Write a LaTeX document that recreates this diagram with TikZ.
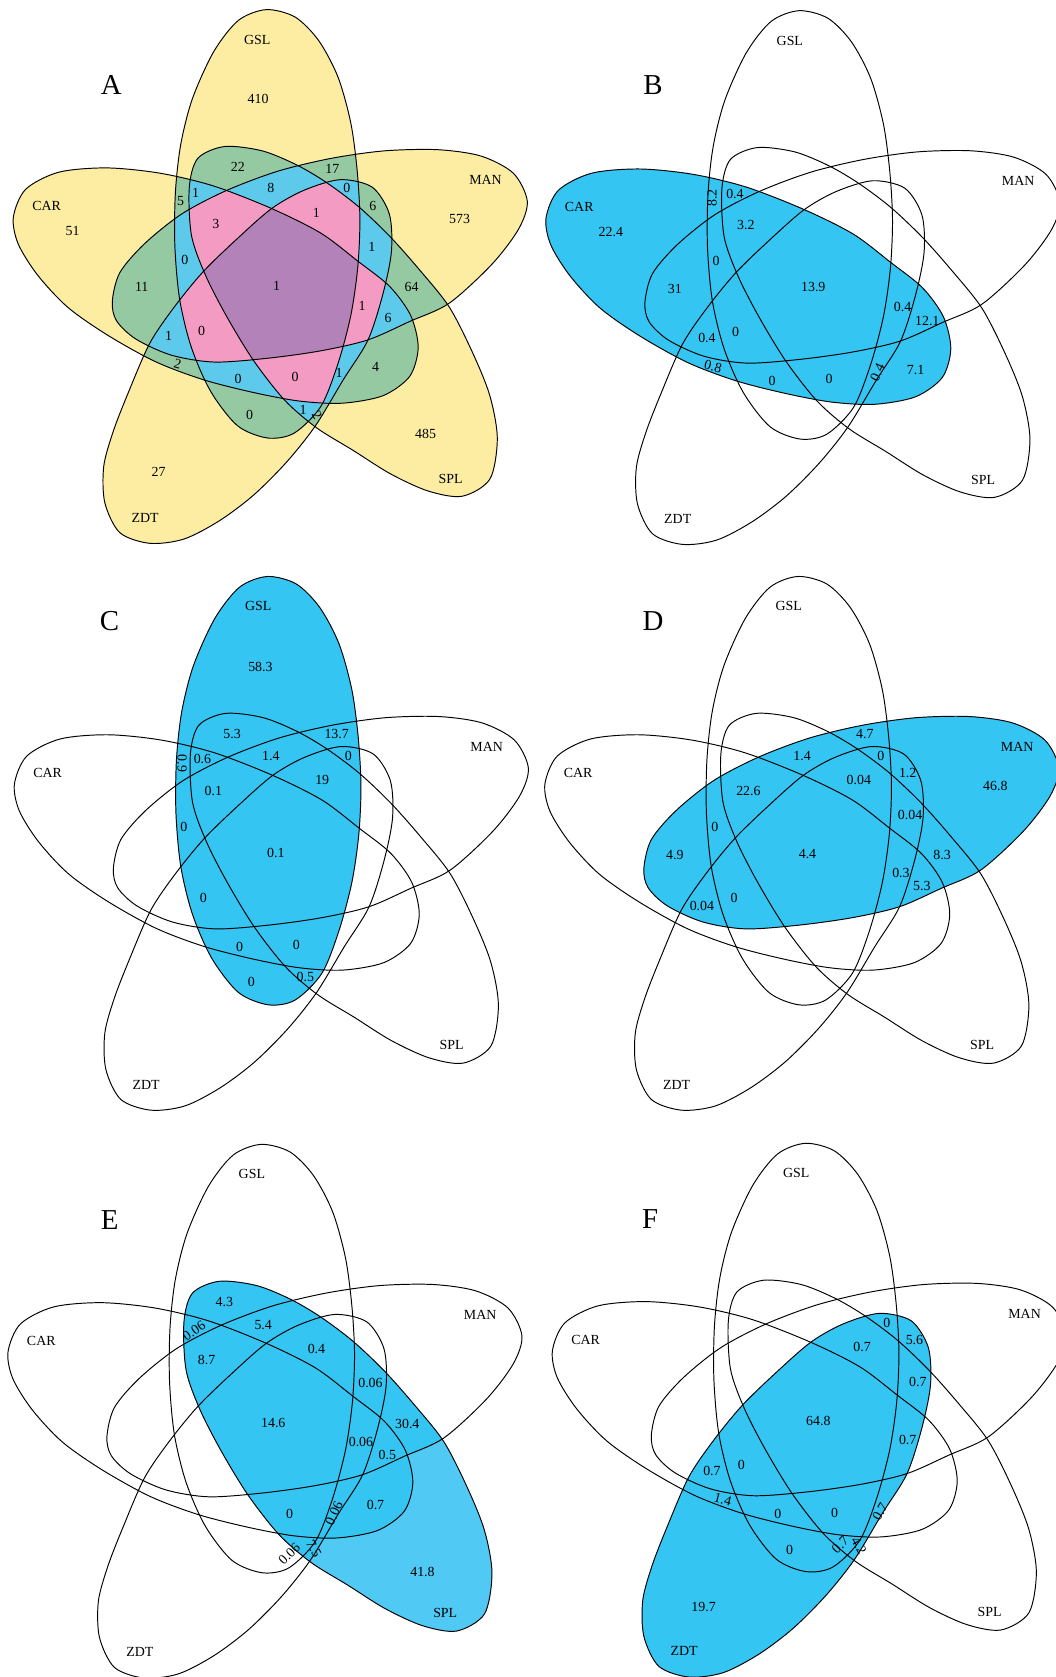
\documentclass[tikz,border=0pt]{standalone}
\usepackage{fontspec}
\setmainfont{Liberation Serif}
\usetikzlibrary{positioning}
\definecolor{one}{HTML}{FCEDA2}
\definecolor{two}{HTML}{95C9A1}
\definecolor{three}{HTML}{5DCAEB}
\definecolor{four}{HTML}{F49BC3}
\definecolor{five}{HTML}{B282B8}
\definecolor{hit}{HTML}{35C5F2}
\definecolor{hitlight}{HTML}{50C9F4}
\tikzset{
  outline/.style={draw=black,line width=0.9pt},
  setname/.style={font=\fontsize{13}{13}\selectfont,inner sep=0pt},
  cnt/.style={font=\fontsize{13}{13}\selectfont,inner sep=0pt},
  tag/.style={font=\fontsize{27}{27}\selectfont,inner sep=0pt},
}
% set outlines, panel A frame (y runs down)
\newcommand{\setG}{plot[smooth cycle] coordinates {(249,9) (276,16) (298,38) (316,72) (328,115) (334,160) (336.5,205) (334.5,250) (328,295) (316,340) (300,380) (275,405) (250,409.5) (222,398) (197,366) (179,325) (168,280) (163.5,230) (164,180) (169,135) (180,92) (200,48) (223,19)}}
\newcommand{\setM}{plot[smooth cycle] coordinates {(105,282) (112,255) (135,228) (170,200) (212,178) (260,160) (310,148) (360,141) (410,140) (450,146) (480,162) (493,188) (485,214) (460,247) (420,283.5) (383,300.6) (344,317.8) (300,328) (250,335) (200,338.5) (160,332) (127,317) (109,300)}}
\newcommand{\setS}{plot[smooth cycle] coordinates {(177,175) (185,148) (210,137) (245,141) (277,154) (305,170.5) (335,193) (364.5,221) (392,252) (420,287) (442,330) (458,370) (465,410) (458,448) (432,464) (400,459) (365,443) (330,421) (296,400) (266,374) (237,337) (212,296) (192,257) (179,220)}}
\newcommand{\setZ}{plot[smooth cycle] coordinates {(318,168) (348,175) (364,200) (366,235) (358,275) (344,318) (321,355) (295,398) (268,432) (237,463) (205,487) (172,504) (140,508) (112,498) (98,470) (97,436) (106,403) (120,367) (140,321) (163,287) (190,254) (222,223) (254,195) (284,178)}}
\newcommand{\setC}{plot[smooth cycle] coordinates {(12.5,203) (24,177) (55,161) (100,157) (150,162) (200,174) (254,195) (300,218) (335,244.5) (364.5,268) (384,295) (391,325) (383,352) (358,370) (320,377) (280,375) (237,367) (190,355) (145,338) (100,313) (63,287) (35,257) (17,228)}}
\newcommand{\drawsets}{%
  \draw[outline] \setG;
  \draw[outline] \setM;
  \draw[outline] \setS;
  \draw[outline] \setZ;
  \draw[outline] \setC;}
\newcommand{\setnames}[1]{%
  \node[setname] (#1gsl) at (240.5,37) {GSL};
  \node[setname] (#1man) at (454,168.5) {MAN};
  \node[setname] (#1spl) at (421.3,447.5) {SPL};
  \node[setname] (#1zdt) at (135.7,484) {ZDT};
  \node[setname] (#1car) at (43.6,192.6) {CAR};}
\begin{document}
\begin{tikzpicture}[x=1pt,y=-1pt]
\useasboundingbox (0,0) rectangle (987,1568);

% A: all five sets, coloured by overlap depth
\begin{scope}
\foreach \a in {\setG,\setM,\setS,\setZ,\setC} {\fill[one] \a;}
\foreach \a/\b in {\setG/\setM,\setG/\setS,\setG/\setZ,\setG/\setC,\setM/\setS,\setM/\setZ,\setM/\setC,\setS/\setZ,\setS/\setC,\setZ/\setC}
  {\begin{scope}\clip \a; \fill[two] \b;\end{scope}}
\foreach \a/\b/\c in {\setG/\setM/\setS,\setG/\setM/\setZ,\setG/\setM/\setC,\setG/\setS/\setZ,\setG/\setS/\setC,\setG/\setZ/\setC,\setM/\setS/\setZ,\setM/\setS/\setC,\setM/\setZ/\setC,\setS/\setZ/\setC}
  {\begin{scope}\clip \a; \clip \b; \fill[three] \c;\end{scope}}
\foreach \a/\b/\c/\d in {\setG/\setM/\setS/\setZ,\setG/\setM/\setS/\setC,\setG/\setM/\setZ/\setC,\setG/\setS/\setZ/\setC,\setM/\setS/\setZ/\setC}
  {\begin{scope}\clip \a; \clip \b; \clip \c; \fill[four] \d;\end{scope}}
\begin{scope}\clip \setG; \clip \setM; \clip \setS; \clip \setZ; \fill[five] \setC;\end{scope}
\drawsets
\setnames{a}
\node[tag] (atag) at (104,79) {A};
\node[cnt] (a1) at (241.3,92.7) {410};
\node[cnt] (a2) at (67.8,216) {51};
\node[cnt] (a3) at (429.7,204.3) {573};
\node[cnt] (a4) at (222.4,156) {22};
\node[cnt] (a5) at (310.7,157.7) {17};
\node[cnt] (a6) at (168.8,187.7) {5};
\node[cnt] (a7) at (183,180) {1};
\node[cnt] (a8) at (253.3,176) {8};
\node[cnt] (a9) at (324.3,176) {0};
\node[cnt] (a10) at (348.6,192.3) {6};
\node[cnt] (a11) at (201.9,209.3) {3};
\node[cnt] (a12) at (295.9,199) {1};
\node[cnt] (a13) at (172.9,242.7) {0};
\node[cnt] (a14) at (347.6,230.7) {1};
\node[cnt] (a15) at (132.5,268.3) {11};
\node[cnt] (a16) at (258.7,267.3) {1};
\node[cnt] (a17) at (384.9,268.3) {64};
\node[cnt] (a18) at (338.5,285.7) {1};
\node[cnt] (a19) at (362.8,297.7) {6};
\node[cnt] (a20) at (157.7,314.3) {1};
\node[cnt] (a21) at (188.6,309.3) {0};
\node[cnt,rotate=-15] (a22) at (166.2,340.7) {2};
\node[cnt] (a23) at (222.7,354) {0};
\node[cnt] (a24) at (276,352.7) {0};
\node[cnt] (a25) at (317,348.3) {1};
\node[cnt] (a26) at (351.1,343.3) {4};
\node[cnt] (a27) at (233.4,388.3) {0};
\node[cnt] (a28) at (283.3,383.3) {1};
\node[cnt,rotate=-60] (a29) at (296.5,388.3) {2};
\node[cnt] (a30) at (398,406) {485};
\node[cnt] (a31) at (148.3,441) {27};
\end{scope}

% B: CAR
\begin{scope}[shift={(498,1)}]
\fill[hit] \setC;
\drawsets
\setnames{b}
\node[tag] (btag) at (112.5,79) {B};
\node[cnt] (b1) at (73.1,216.3) {22.4};
\node[cnt,rotate=90] (b2) at (167.7,184) {8.2};
\node[cnt] (b3) at (189.2,180) {0.4};
\node[cnt] (b4) at (199.3,209.7) {3.2};
\node[cnt] (b5) at (171.5,243.3) {0};
\node[cnt] (b6) at (133,269) {31};
\node[cnt] (b7) at (262.4,267.3) {13.9};
\node[cnt] (b8) at (346,285.7) {0.4};
\node[cnt] (b9) at (369,299) {12.1};
\node[cnt] (b10) at (163,315) {0.4};
\node[cnt] (b11) at (189.8,309.7) {0};
\node[cnt,rotate=-15] (b12) at (168.7,341.7) {0.8};
\node[cnt] (b13) at (223.9,355) {0};
\node[cnt] (b14) at (277.2,353.3) {0};
\node[cnt,rotate=65] (b15) at (322.3,347.3) {0.4};
\node[cnt] (b16) at (358,344.7) {7.1};
\end{scope}

% C: GSL
\begin{scope}[shift={(1,530)}]
\fill[hit] \setG;
\drawsets
\setnames{c}
\node[tag] (ctag) at (101.5,50.7) {C};
\node[cnt] (c1) at (242.5,93.4) {58.3};
\node[cnt] (c2) at (216,156.7) {5.3};
\node[cnt] (c3) at (313.8,156.7) {13.7};
\node[cnt,rotate=-90] (c4) at (169.3,184) {0.9};
\node[cnt] (c5) at (188.3,180) {0.6};
\node[cnt] (c6) at (252.3,176.7) {1.4};
\node[cnt] (c7) at (324.6,176.7) {0};
\node[cnt] (c8) at (300.3,199.4) {19};
\node[cnt] (c9) at (198.4,210) {0.1};
\node[cnt] (c10) at (170.9,243.4) {0};
\node[cnt] (c11) at (257,267.7) {0.1};
\node[cnt] (c12) at (189.2,309.4) {0};
\node[cnt] (c13) at (223,355) {0};
\node[cnt] (c14) at (276,353.4) {0};
\node[cnt] (c15) at (234,388.4) {0};
\node[cnt] (c16) at (284.5,383.4) {0.5};
\end{scope}

% D: MAN
\begin{scope}[shift={(497,530)}]
\fill[hit] \setM;
\drawsets
\setnames{d}
\node[tag] (dtag) at (113.5,50.7) {D};
\node[cnt] (d1) at (311.6,156.7) {4.7};
\node[cnt] (d2) at (253,176.7) {1.4};
\node[cnt] (d3) at (326.5,176.7) {0};
\node[cnt] (d4) at (351.7,192.7) {1.2};
\node[cnt] (d5) at (306,199.4) {0.04};
\node[cnt] (d6) at (433.7,205) {46.8};
\node[cnt] (d7) at (202.8,210) {22.6};
\node[cnt] (d8) at (353.9,231.7) {0.04};
\node[cnt] (d9) at (171.3,243.4) {0};
\node[cnt] (d10) at (134,269) {4.9};
\node[cnt] (d11) at (258,268.4) {4.4};
\node[cnt] (d12) at (383.9,269) {8.3};
\node[cnt] (d13) at (345.4,286) {0.3};
\node[cnt] (d14) at (365,298.4) {5.3};
\node[cnt] (d15) at (159.3,317.4) {0.04};
\node[cnt] (d16) at (189.3,309.4) {0};
\end{scope}

% E: SPL
\begin{scope}[shift={(-5,1061)}]
\fill[hitlight] \setS;
\begin{scope}
\clip \setS;
\foreach \a in {\setG,\setM,\setZ,\setC} {\fill[hit] \a;}
\end{scope}
\drawsets
\setnames{e}
\node[tag] (etag) at (107.5,79.8) {E};
\node[cnt] (e1) at (214.8,156.8) {4.3};
\node[cnt] (e2) at (251.1,177.5) {5.4};
\node[cnt,rotate=35] (e3) at (186.4,183.1) {0.06};
\node[cnt] (e4) at (300.9,200.1) {0.4};
\node[cnt] (e5) at (198.1,210.1) {8.7};
\node[cnt] (e6) at (351.4,232.5) {0.06};
\node[cnt] (e7) at (260.5,269.1) {14.6};
\node[cnt] (e8) at (385.8,270.1) {30.4};
\node[cnt] (e9) at (342.5,287.5) {0.06};
\node[cnt] (e10) at (367.1,299.1) {0.5};
\node[cnt] (e11) at (275.7,354.8) {0};
\node[cnt,rotate=65] (e12) at (317.3,354.1) {0.06};
\node[cnt] (e13) at (356.1,345.8) {0.7};
\node[cnt,rotate=45] (e14) at (275.5,392) {0.06};
\node[cnt,rotate=-60] (e15) at (298.5,387.5) {7.5};
\node[cnt] (e16) at (400,408.5) {41.8};
\end{scope}

% F: ZDT
\begin{scope}[shift={(504,1060)}]
\fill[hit] \setZ;
\drawsets
\setnames{f}
\node[tag] (ftag) at (104,80.1) {F};
\node[cnt] (f1) at (325.2,176.8) {0};
\node[cnt] (f2) at (351,192.8) {5.6};
\node[cnt] (f3) at (302.1,199.1) {0.7};
\node[cnt] (f4) at (354.2,231.8) {0.7};
\node[cnt] (f5) at (261.1,268.5) {64.8};
\node[cnt] (f6) at (344.7,286.1) {0.7};
\node[cnt] (f7) at (161.7,315.8) {0.7};
\node[cnt] (f8) at (189.2,310.1) {0};
\node[cnt,rotate=-15] (f9) at (171.8,341.8) {1.4};
\node[cnt] (f10) at (223.3,355.1) {0};
\node[cnt] (f11) at (276.3,354.5) {0};
\node[cnt,rotate=60] (f12) at (318.9,353.5) {0.7};
\node[cnt] (f13) at (234.3,389.5) {0};
\node[cnt,rotate=45] (f14) at (281.5,384.5) {0.7};
\node[cnt,rotate=-60] (f15) at (299,385.5) {4.2};
\node[cnt] (f16) at (153.9,442.8) {19.7};
\end{scope}

\end{tikzpicture}
\end{document}
